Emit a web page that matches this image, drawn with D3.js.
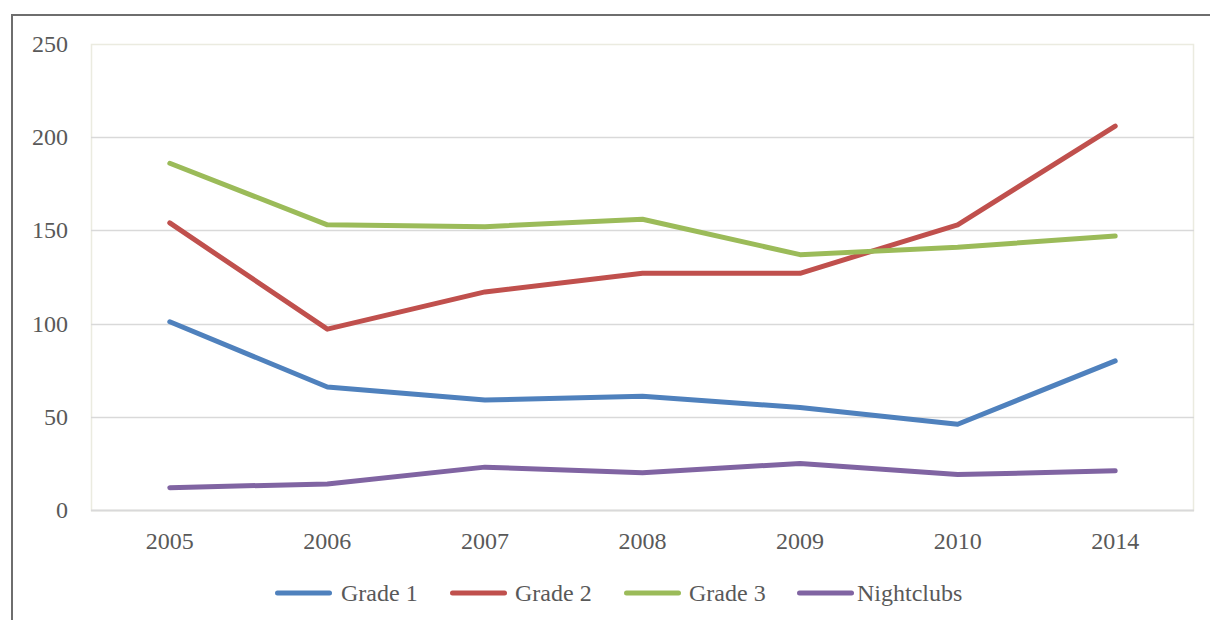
<!DOCTYPE html>
<html><head><meta charset="utf-8">
<script src="https://cdn.jsdelivr.net/npm/d3@7"></script>
<style>body{margin:0;background:#fff;} svg{display:block;}</style>
</head><body>
<svg id="c" width="1210" height="620"></svg>
<script>
const years = ["2005","2006","2007","2008","2009","2010","2014"];
const grade1 = [101, 66, 59, 61, 55, 46, 80];
const grade2 = [154, 97, 117, 127, 127, 153, 206];
const grade3 = [186, 153, 152, 156, 137, 141, 147];
const nightclubs = [12, 14, 23, 20, 25, 19, 21];
const seriesNames = ["Grade 1","Grade 2","Grade 3","Nightclubs"];
const seriesColors = ["#4f81bd","#c0504d","#9bbb59","#8064a2"];
const yTicks = [0, 50, 100, 150, 200, 250];

const series = [grade1, grade2, grade3, nightclubs].map((v,i)=>({name:seriesNames[i], color:seriesColors[i], values:v}));

const svg = d3.select("#c");
const font = "'Liberation Serif', serif";
const L = 91, R = 1194, T = 44, B = 510;

// outer border
svg.append("rect").attr("x",12).attr("y",15).attr("width",1230).attr("height",640)
  .attr("fill","none").attr("stroke","#6e6e6e").attr("stroke-width",2);

const x = d3.scaleBand().domain(years).range([L,R]).paddingInner(0).paddingOuter(0);
const y = d3.scaleLinear().domain([0,250]).range([B,T]);

// plot area border
svg.append("rect").attr("x",L+0.5).attr("y",T+0.5).attr("width",R-L-1).attr("height",B-T)
  .attr("fill","none").attr("stroke","#ebebe0").attr("stroke-width",1.5);

// gridlines
svg.append("g").selectAll("line").data(yTicks.filter(t=>t>0 && t<250)).join("line")
  .attr("x1",L).attr("x2",R).attr("y1",d=>Math.round(y(d))+0.5).attr("y2",d=>Math.round(y(d))+0.5)
  .attr("stroke","#d9d9d9").attr("stroke-width",1.5);
svg.append("line").attr("x1",L).attr("x2",R).attr("y1",B+0.5).attr("y2",B+0.5)
  .attr("stroke","#d9d9d9").attr("stroke-width",2);

// y labels
svg.append("g").selectAll("text").data(yTicks).join("text")
  .attr("x",68).attr("y",d=>y(d)).attr("text-anchor","end").attr("dominant-baseline","central")
  .attr("font-family",font).attr("font-size",24).attr("fill","#595959").text(d=>d);

// x labels
svg.append("g").selectAll("text").data(years).join("text")
  .attr("x",d=>x(d)+x.bandwidth()/2).attr("y",541).attr("text-anchor","middle").attr("dominant-baseline","central")
  .attr("font-family",font).attr("font-size",24).attr("fill","#595959").text(d=>d);

// lines
const line = d3.line().x((d,i)=>x(years[i])+x.bandwidth()/2).y(d=>y(d));
svg.append("g").selectAll("path").data(series).join("path")
  .attr("d",d=>line(d.values)).attr("fill","none").attr("stroke",d=>d.color)
  .attr("stroke-width",5).attr("stroke-linecap","round").attr("stroke-linejoin","round");

// legend
const legStarts = [275, 450, 624, 797];
const textOff = [66, 65, 65, 60];
const lg = svg.append("g").selectAll("g").data(series).join("g")
  .attr("transform",(d,i)=>`translate(${legStarts[i]},593)`);
lg.append("line").attr("x1",2.5).attr("x2",54.5).attr("y1",0).attr("y2",0)
  .attr("stroke",d=>d.color).attr("stroke-width",5).attr("stroke-linecap","round");
lg.append("text").attr("x",(d,i)=>textOff[i]).attr("y",0).attr("dominant-baseline","central")
  .attr("font-family",font).attr("font-size",24).attr("fill","#595959").text(d=>d.name);
</script>
</body></html>
